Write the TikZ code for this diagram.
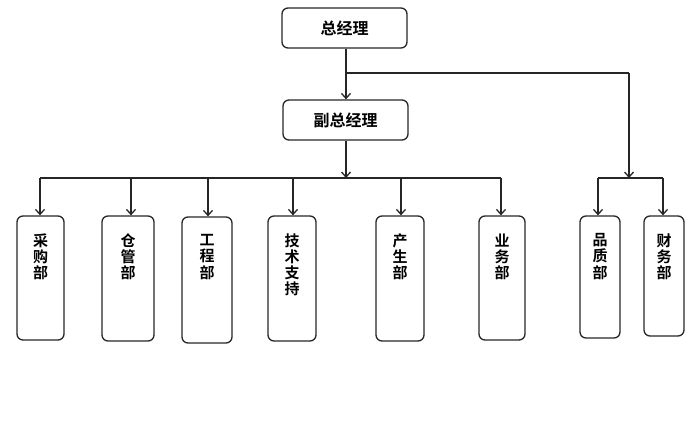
\documentclass[tikz,border=0pt]{standalone}
\usepackage{fontspec}
\newfontfamily\cjk{Noto Sans CJK SC Bold}
\usetikzlibrary{arrows.meta}
\begin{document}
\begin{tikzpicture}[x=1pt,y=-1pt,
  box/.style={draw=black!85,line width=1.3pt,rounded corners=6pt,inner sep=0pt},
  lbl/.style={font=\cjk\fontsize{15}{16.2}\selectfont,align=center,inner sep=0pt,anchor=north},
  conn/.style={draw=black!85,line width=1.5pt},
  arr/.style={conn,-{Straight Barb[length=5pt,width=9pt,line width=1.3pt]}}]
\useasboundingbox (0,0) rectangle (700,443);
% top boxes
\node[box,minimum width=125pt,minimum height=40pt,font=\cjk\fontsize{16}{18}\selectfont] (gm) at (344.5,28) {总经理};
\node[box,minimum width=125pt,minimum height=40pt,font=\cjk\fontsize{16}{18}\selectfont] (vgm) at (345.5,120) {副总经理};
% department boxes
\node[box,minimum width=47pt,minimum height=124pt] (cg) at (40.5,278) {};
\node[box,minimum width=52pt,minimum height=125pt] (cgb) at (128,278.5) {};
\node[box,minimum width=50pt,minimum height=126pt] (gc) at (207,280) {};
\node[box,minimum width=48pt,minimum height=125pt] (js) at (292,278.5) {};
\node[box,minimum width=48pt,minimum height=125pt] (sc) at (400,278.5) {};
\node[box,minimum width=46pt,minimum height=124pt] (yw) at (502,278) {};
\node[box,minimum width=40pt,minimum height=122pt] (pz) at (600,277) {};
\node[box,minimum width=40pt,minimum height=120pt] (cw) at (664,276) {};
% labels
\node[lbl] (tcg) at ([yshift=-18pt]cg.north) {采\\购\\部};
\node[lbl] (tcgb) at ([yshift=-18pt]cgb.north) {仓\\管\\部};
\node[lbl] (tgc) at ([yshift=-18pt]gc.north) {工\\程\\部};
\node[lbl] (tjs) at ([yshift=-18pt]js.north) {技\\术\\支\\持};
\node[lbl] (tsc) at ([yshift=-18pt]sc.north) {产\\生\\部};
\node[lbl] (tyw) at ([yshift=-18pt]yw.north) {业\\务\\部};
\node[lbl] (tpz) at ([yshift=-18pt]pz.north) {品\\质\\部};
\node[lbl] (tcw) at ([yshift=-18pt]cw.north) {财\\务\\部};
% junction coordinates
\coordinate (j1) at (346,73);
\coordinate (j2) at (629,73);
\coordinate (jb) at (346,178);
\coordinate (jr) at (629,178);
\coordinate (bl) at (40,178);
\coordinate (br) at (501,178);
\coordinate (rl) at (598,178);
\coordinate (rr) at (663,178);
% connectors
\draw[arr] (gm.south -| j1) -- (vgm.north -| j1);
\draw[conn] (j1) -- (j2);
\draw[arr] (j2) -- (jr);
\draw[arr] (vgm.south -| jb) -- (jb);
\draw[conn] (bl) -- (br);
\draw[conn] (rl) -- (rr);
\draw[arr] (bl) -- (cg.north -| bl);
\draw[arr] (131,178) -- (cgb.north -| 131,0);
\draw[arr] (208,178) -- (gc.north -| 208,0);
\draw[arr] (293,178) -- (js.north -| 293,0);
\draw[arr] (401,178) -- (sc.north -| 401,0);
\draw[arr] (br) -- (yw.north -| br);
\draw[arr] (rl) -- (pz.north -| rl);
\draw[arr] (rr) -- (cw.north -| rr);
\end{tikzpicture}
\end{document}
